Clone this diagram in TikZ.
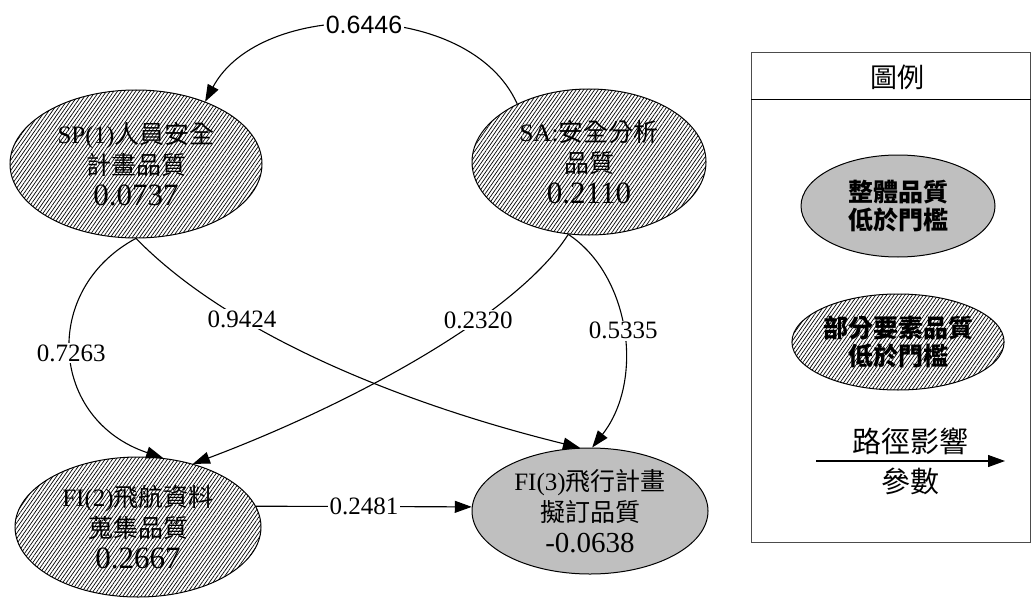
\documentclass[tikz,border=0pt]{standalone}
\usepackage{fontspec}
\setmainfont{Liberation Serif}
\newfontfamily\zh{Noto Sans CJK TC}
\newfontfamily\snum{Liberation Sans}
\newcommand\numtxt[2]{{\fontsize{#1}{#1}\selectfont #2}}
\usetikzlibrary{shapes.geometric,arrows.meta,patterns.meta}
\begin{document}
\begin{tikzpicture}[x=1pt,y=-1pt,
  every node/.style={inner sep=0pt},
  hatchnode/.style={ellipse,draw,line width=1pt,pattern={Lines[angle=55,distance=3pt,line width=0.7pt]},align=center,font=\fontsize{25}{31}\selectfont},
  graynode/.style={ellipse,draw,line width=1pt,fill=gray!50,align=center,font=\fontsize{25}{31}\selectfont},
  link/.style={line width=1.1pt,-{Triangle[length=17pt,width=12pt]}},
  lab/.style={fill=white,inner sep=1.5pt,font=\fontsize{25}{25}\selectfont},
  legfont/.style={font=\zh\bfseries\fontsize{25}{28}\selectfont}]
\useasboundingbox (0,0) rectangle (1032,599);

% main nodes
\node[hatchnode,minimum width=252pt,minimum height=148pt] (SP) at (136,164)
  {SP(1){\zh 人員安全}\\{\zh 計畫品質}\\\numtxt{31}{0.0737}};
\node[hatchnode,minimum width=234pt,minimum height=146pt] (SA) at (589,162)
  {SA:{\zh 安全分析}\\{\zh 品質}\\\numtxt{31}{0.2110}};
\node[hatchnode,minimum width=246pt,minimum height=140pt] (FI2) at (138,527)
  {FI(2){\zh 飛航資料}\\{\zh 蒐集品質}\\\numtxt{31}{0.2667}};
\node[graynode,minimum width=236pt,minimum height=126pt] (FI3) at (590,511)
  {FI(3){\zh 飛行計畫}\\{\zh 擬訂品質}\\\numtxt{29}{-0.0638}};

% connectors
\draw[link] (SA.141) .. controls (470,-1) and (260,-1) .. (SP.42)
  node[lab,pos=0.5,font=\snum\fontsize{25}{25}\selectfont] {0.6446};
\draw[link] (SP.south) .. controls (40,290) and (50,420) .. (FI2.70)
  node[lab,pos=0.5] {0.7263};
\draw[link] (SP.south) .. controls (232,337) and (410,406) .. (FI3.99)
  node[lab,pos=0.3] {0.9424};
\draw[link] (SA.254) .. controls (518,314) and (352,404) .. (FI2.49)
  node[lab,pos=0.35] {0.2320};
\draw[link] (SA.254) .. controls (630,275) and (645,380) .. (FI3.88)
  node[lab,pos=0.5] {0.5335};
\draw[link] (FI2.10) -- (FI3.178) node[lab,midway] {0.2481};

% legend
\draw[draw=gray!60!black,line width=1pt] (751,53) rectangle (1030.5,542);
\draw[line width=1pt] (751,100) -- (1030.5,100);
\node[font=\zh\fontsize{27}{27}\selectfont] (lt) at (897,77) {圖例};
\node[graynode,minimum width=194pt,minimum height=102pt,legfont] (lg) at (898,206) {整體品質\\低於門檻};
\node[hatchnode,minimum width=194pt,minimum height=96pt,legfont] (lh) at (898,342) {部分要素品質\\低於門檻};
\coordinate (la1) at (816,461);
\coordinate (la2) at (1005,461);
\draw[link] (la1) -- (la2);
\node[font=\zh\fontsize{29}{29}\selectfont] (lp1) at (910,441) {路徑影響};
\node[font=\zh\fontsize{29}{29}\selectfont] (lp2) at (910,481) {參數};
\end{tikzpicture}
\end{document}
